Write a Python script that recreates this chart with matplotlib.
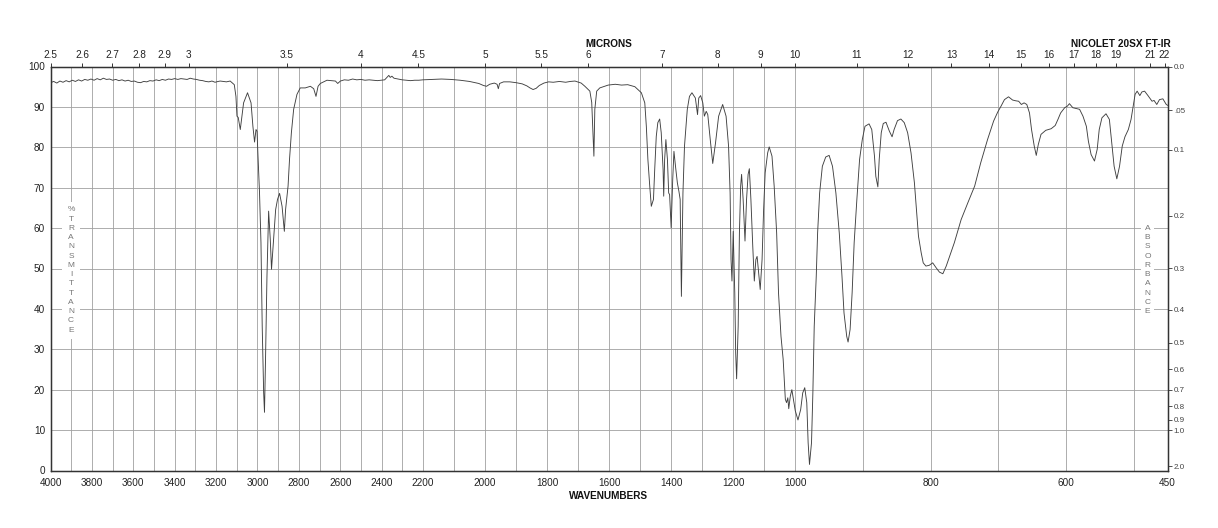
import numpy as np
import matplotlib.pyplot as plt

plt.rcParams["font.family"] = ["Liberation Sans", "DejaVu Sans"]

# readings: wavenumber (cm-1) / % transmittance
wn_high = [4000, 3985, 3970, 3955, 3940, 3925, 3910, 3895, 3880, 3865,
           3850, 3835, 3820, 3805, 3790, 3775, 3760, 3745, 3730, 3715,
           3700, 3685, 3670, 3655, 3640, 3625, 3610, 3595, 3580, 3565,
           3550, 3535, 3520, 3505, 3490, 3475, 3460, 3445, 3430, 3415,
           3400, 3385, 3370, 3355, 3340, 3325, 3310, 3295, 3280, 3265,
           3250, 3235, 3220, 3205, 3190]
pct_high = [96.0, 96.3, 95.9, 96.4, 96.1, 96.5, 96.2, 96.6, 96.3, 96.7,
            96.4, 96.8, 96.6, 96.9, 96.6, 97.0, 96.7, 97.1, 96.8, 96.9,
            96.6, 96.8, 96.5, 96.7, 96.4, 96.6, 96.3, 96.4, 96.1, 96.0,
            96.3, 96.2, 96.5, 96.4, 96.7, 96.5, 96.8, 96.6, 96.9, 96.8,
            97.0, 96.8, 97.0, 96.9, 96.8, 97.1, 96.9, 96.8, 96.6, 96.5,
            96.3, 96.2, 96.4, 96.1, 96.3]

wn_ch = [3180, 3150, 3132, 3112, 3104, 3099, 3093, 3083, 3067, 3048,
         3031, 3022, 3014, 3007, 3002, 2998, 2990, 2983, 2977, 2970,
         2966, 2961, 2954, 2946, 2938, 2932, 2922, 2912, 2903, 2893,
         2881, 2870, 2864, 2852, 2845, 2836, 2825, 2809, 2793, 2769,
         2744, 2728, 2717, 2707, 2696, 2664, 2623, 2612, 2599]
pct_ch = [96.4, 96.2, 96.4, 95.5, 92.6, 87.7, 87.4, 84.4, 91.0, 93.5,
          91.0, 85.2, 81.3, 84.4, 84.0, 78.6, 68.7, 56.4, 35.7, 19.3,
          14.4, 27.5, 48.1, 64.2, 57.2, 49.8, 57.2, 64.6, 67.1, 68.6,
          65.4, 59.2, 64.6, 70.4, 77.0, 83.6, 89.4, 93.1, 94.7, 94.7,
          95.1, 94.5, 92.6, 95.1, 95.8, 96.6, 96.4, 95.8, 96.4]

wn_mid = [2580, 2560, 2540, 2520, 2500, 2480, 2460, 2440, 2420, 2400,
          2385, 2372, 2365, 2358, 2350, 2340, 2320, 2300, 2280, 2260,
          2240, 2220, 2200, 2170, 2140, 2110, 2080, 2050, 2020, 2005,
          1995, 1985, 1970, 1961, 1957, 1953, 1940, 1920, 1900, 1880,
          1865, 1855, 1845, 1835, 1825, 1810, 1795, 1780, 1760, 1740,
          1725, 1710]
pct_mid = [96.7, 96.6, 96.9, 96.7, 96.8, 96.6, 96.7, 96.6, 96.5, 96.6,
           96.7, 97.4, 97.8, 97.3, 97.6, 97.1, 96.9, 96.7, 96.6, 96.5,
           96.6, 96.6, 96.7, 96.8, 96.9, 96.8, 96.6, 96.3, 95.8, 95.3,
           95.1, 95.6, 95.9, 95.6, 94.5, 95.8, 96.2, 96.2, 96.0, 95.7,
           95.2, 94.7, 94.3, 94.6, 95.3, 95.9, 96.2, 96.1, 96.3, 96.1,
           96.3, 96.4]

wn_fp1 = [1690, 1678, 1662, 1656, 1651, 1649, 1646, 1640, 1630, 1603,
          1580, 1560, 1540, 1517, 1496, 1485, 1480, 1475, 1469, 1464,
          1457, 1453, 1448, 1443, 1437, 1432, 1426, 1424, 1421, 1417,
          1412, 1408, 1405, 1400, 1395, 1391, 1386, 1380, 1375, 1371,
          1367, 1362, 1357, 1348, 1341, 1333, 1322, 1315, 1311, 1305,
          1298, 1293, 1287, 1282, 1274, 1266, 1257, 1247, 1234, 1223,
          1215, 1210, 1207, 1204, 1200, 1195, 1192, 1189, 1184, 1180,
          1176, 1173, 1168, 1162, 1157, 1152, 1148, 1143, 1137, 1132,
          1127, 1123, 1118, 1113, 1107, 1102, 1097, 1089, 1084, 1075,
          1068, 1060, 1054, 1046, 1039, 1032, 1028, 1024, 1021, 1016,
          1011, 1006, 1000]
pct_fp1 = [95.9, 95.1, 93.9, 91.1, 81.2, 77.8, 89.4, 93.9, 94.7, 95.4,
           95.6, 95.4, 95.5, 95.0, 93.5, 91.0, 85.2, 77.0, 70.4, 65.4,
           67.1, 74.5, 82.7, 86.1, 87.0, 83.6, 74.5, 67.9, 77.0, 81.9,
           77.0, 68.7, 68.3, 60.1, 72.0, 79.0, 75.3, 71.2, 69.1, 67.1,
           43.1, 68.7, 80.3, 89.4, 92.6, 93.5, 92.2, 88.1, 92.2, 92.8,
           91.0, 87.7, 88.9, 88.1, 81.9, 76.0, 81.1, 87.7, 90.6, 87.7,
           80.3, 68.7, 52.2, 46.9, 59.2, 44.0, 29.1, 22.7, 35.7, 58.8,
           70.4, 73.3, 67.1, 56.8, 67.1, 73.3, 74.7, 67.1, 55.5, 46.9,
           52.2, 53.0, 48.9, 44.8, 52.2, 64.6, 73.7, 78.6, 80.1, 77.8,
           70.4, 58.8, 44.0, 33.2, 27.5, 17.6, 16.8, 18.0, 15.3, 18.4,
           20.0, 17.6, 14.8]

wn_fp2 = [996, 992, 989, 986, 983, 981, 979, 976, 974, 972,
          969, 967, 964, 960, 955, 950, 945, 940, 935, 931,
          928, 924, 922, 919, 916, 913, 909, 905, 901, 897,
          891, 887, 883, 881, 878, 876, 873, 870, 866, 861,
          857, 854, 849, 844, 839, 834, 829, 824, 821, 818,
          814, 811, 807, 802, 797, 792, 787, 782, 777, 772,
          765, 755, 745, 735, 726, 716, 707, 701, 696, 691,
          685, 679, 674, 670, 666, 662, 658, 654, 651, 647,
          644, 641, 637, 630, 622, 616, 612, 608, 602, 598,
          595, 590, 585, 580, 575, 570, 567, 563, 558, 554,
          551, 547, 541, 536, 533, 529, 525, 521, 517, 513,
          508, 504, 500, 498, 495, 491, 488, 484, 479, 473,
          470, 466, 462, 457, 452, 450]
pct_fp2 = [12.5, 15.1, 19.2, 20.5, 16.8, 6.9, 1.5, 6.9, 19.2, 35.7,
           48.1, 58.8, 68.7, 75.3, 77.6, 78.0, 75.3, 68.7, 58.8, 48.1,
           39.0, 33.2, 31.8, 34.9, 44.0, 56.4, 67.1, 77.0, 81.9, 85.2,
           85.8, 84.4, 77.8, 72.8, 70.2, 77.0, 83.6, 85.9, 86.2, 84.0,
           82.6, 84.4, 86.6, 87.0, 86.1, 83.6, 78.6, 71.2, 64.6, 58.0,
           53.9, 51.4, 50.6, 50.8, 51.4, 50.2, 49.1, 48.7, 50.6, 53.0,
           56.4, 62.1, 66.3, 70.4, 76.2, 81.9, 86.5, 88.7, 90.2, 91.8,
           92.5, 91.7, 91.5, 91.4, 90.6, 91.0, 90.6, 88.5, 84.4, 80.3,
           78.0, 80.7, 83.2, 84.2, 84.6, 85.4, 86.9, 88.5, 89.8, 90.2,
           90.8, 89.8, 89.6, 89.4, 87.7, 85.2, 81.5, 78.2, 76.6, 79.5,
           84.4, 87.3, 88.3, 86.9, 81.9, 75.3, 72.2, 75.3, 80.3, 82.6,
           84.4, 86.9, 91.0, 93.1, 93.9, 92.8, 93.7, 93.9, 92.8, 91.4,
           91.6, 90.6, 91.8, 92.0, 90.6, 90.4]

wn_labels = [4000, 3800, 3600, 3400, 3200, 3000, 2800, 2600, 2400, 2200,
             2000, 1800, 1600, 1400, 1200, 1000, 800, 600, 450]
micron_ticks = [2.5, 2.6, 2.7, 2.8, 2.9, 3, 3.5, 4, 4.5, 5, 5.5, 6, 7, 8, 9,
                10, 11, 12, 13, 14, 15, 16, 17, 18, 19, 21, 22]
absorb_ticks = [0.0, 0.05, 0.1, 0.2, 0.3, 0.4, 0.5, 0.6, 0.7, 0.8, 0.9, 1.0, 2.0]
absorb_labels = ["0.0", ".05", "0.1", "0.2", "0.3", "0.4", "0.5", "0.6",
                 "0.7", "0.8", "0.9", "1.0", "2.0"]

wn = wn_high + wn_ch + wn_mid + wn_fp1 + wn_fp2
pct = pct_high + pct_ch + pct_mid + pct_fp1 + pct_fp2

# chart paper: 4000-2200, 2200-1000 and 1000-450 each get a third of the width
seg_wn = [450, 1000, 2200, 4000]
seg_pos = [0, 1, 2, 3]


def fwd(w):
    return np.interp(w, seg_wn, seg_pos)


def inv(u):
    return np.interp(u, seg_pos, seg_wn)


W, H = 1218, 528
fig = plt.figure(figsize=(W / 100, H / 100), dpi=100)
ax = fig.add_axes([50.6 / W, 1 - 470.5 / H, 1117 / W, 404 / H])
ax.set_xscale("function", functions=(fwd, inv))
ax.set_xlim(4000, 450)
ax.set_ylim(0, 100)

ax.plot(wn, pct, color="#404040", lw=0.65, zorder=4)

ax.set_xticks(wn_labels)
ax.set_xticklabels([str(v) for v in wn_labels])
ax.set_xticks(list(range(500, 4000, 100)), minor=True)
ax.set_yticks(range(0, 101, 10))
ax.tick_params(axis="x", which="both", length=0, labelsize=7.2, pad=5.5, colors="#222")
ax.tick_params(axis="y", length=0, labelsize=7.2, pad=4, colors="#222")
ax.grid(which="both", color="#a0a0a0", lw=0.6)
ax.set_axisbelow(True)

# microns on top
top = ax.twiny()
top.set_xscale("function", functions=(fwd, inv))
top.set_xlim(4000, 450)
top.set_xticks([1e4 / m for m in micron_ticks])
top.set_xticklabels([f"{m:g}" for m in micron_ticks])
top.tick_params(axis="x", length=3, width=0.7, color="#333", labelsize=7.2, pad=1.5,
                labelcolor="#222")

# absorbance on the right
right = ax.twinx()
right.set_ylim(0, 100)
right.set_yticks([100 * 10 ** -a for a in absorb_ticks])
right.set_yticklabels(absorb_labels)
right.tick_params(axis="y", length=3, width=0.6, color="#333", labelsize=5.8, pad=1.5,
                  labelcolor="#444")

for a in (ax, top, right):
    for s in a.spines.values():
        s.set_color("#333333")
        s.set_linewidth(0.85)

ax.text((71 - 50.6) / 1117, 0.496, "\n".join("%TRANSMITTANCE"), transform=ax.transAxes,
        ha="center", va="center", fontsize=6, color="#777", linespacing=1.45, zorder=3,
        bbox=dict(facecolor="white", edgecolor="none", pad=3.5))
ax.text((1147.5 - 50.6) / 1117, 0.496, "\n".join("ABSORBANCE"), transform=ax.transAxes,
        ha="center", va="center", fontsize=6, color="#777", linespacing=1.45, zorder=3,
        bbox=dict(facecolor="white", edgecolor="none", pad=2.5))

fig.text(609 / W, 1 - 44 / H, "MICRONS", ha="center", va="center", fontsize=7.2,
         fontweight="bold", color="#111")
fig.text(1171 / W, 1 - 44 / H, "NICOLET 20SX FT-IR", ha="right", va="center", fontsize=7.3,
         fontweight="bold", color="#111")
fig.text(609 / W, 1 - 496 / H, "WAVENUMBERS", ha="center", va="center", fontsize=7.2,
         fontweight="bold", color="#111")

fig.savefig("out.png", dpi=100)
